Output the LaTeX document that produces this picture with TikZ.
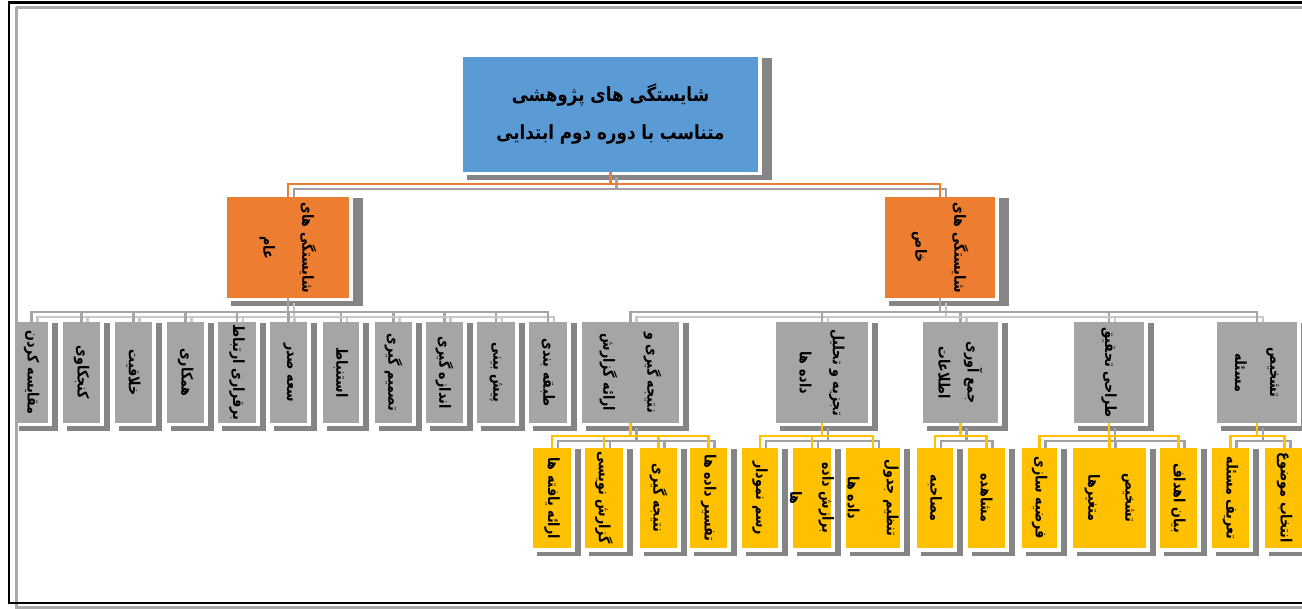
\documentclass[tikz,border=0pt]{standalone}
\usepackage{fontspec}
\newfontfamily\arabicfont[Script=Arabic, FakeStretch=0.82]{DejaVu Sans}
\newfontfamily\arabicmain[Script=Arabic, FakeStretch=0.86]{DejaVu Sans}
\TeXXeTstate=1
\usetikzlibrary{calc}
\pgfdeclarelayer{bg}\pgfdeclarelayer{mid}
\pgfsetlayers{bg,mid,main}
\definecolor{cblue}{HTML}{5B9BD5}
\definecolor{corange}{HTML}{ED7D31}
\definecolor{cgray}{HTML}{A5A5A5}
\definecolor{cyellow}{HTML}{FFC000}
\definecolor{shadowc}{HTML}{858585}
\definecolor{lshadow}{HTML}{A0A0A0}
\definecolor{lshadowl}{HTML}{C8C8C8}
\newcommand{\rl}[1]{\beginR #1\endR}
% box: name, fill, x1, y1, x2, y2
\newcommand{\bx}[6]{\node[boxbase, fill=#2, minimum width={#5-#3}, minimum height={#6-#4}] (#1) at ({(#3+#5)/2},{(#4+#6)/2}) {};}
% connector: parent, child, bus y, colour, shadow colour
\newcommand{\cn}[5]{%
  \draw[#5, conn, transform canvas={shift={(6pt,-5pt)}}] (#1.south) -- (#1.south |- 0,#3) -| (#2.north);
  \draw[#4, conn] (#1.south) -- (#1.south |- 0,#3) -| (#2.north);}
\tikzset{
  boxbase/.style={rectangle, draw=none, inner sep=0pt, outer sep=0pt},
  conn/.style={line width=2.2pt},
  maintxt/.style={font=\arabicmain\bfseries\fontsize{19.5}{38}\selectfont, align=center, text=black},
  vtxt/.style={font=\arabicfont\bfseries\fontsize{15.5}{37}\selectfont, align=center, text=black, rotate=-90, inner sep=0pt},
}
\begin{document}
\begin{tikzpicture}[x=1pt, y=-1pt]
\useasboundingbox (0,0) rectangle (1302,609);
% frame
\draw[shadowc!70, line width=2.2pt] (16,7.5) -- (1302,7.5);
\draw[shadowc!70, line width=2.2pt] (16.5,7) -- (16.5,607.5) -- (1302,607.5);
\draw[black, line width=2.5pt] (1302,2.5) -- (9,2.5) -- (9,603) -- (1302,603);
% boxes
\bx{m}{cblue}{463}{57}{758}{172}
\bx{ga}{corange}{227}{197}{349}{298}
\bx{gk}{corange}{885}{197}{995}{298}
\bx{a1}{cgray}{15}{322}{48}{423}
\bx{a2}{cgray}{63}{322}{100}{423}
\bx{a3}{cgray}{115}{322}{152}{423}
\bx{a4}{cgray}{167}{322}{204}{423}
\bx{a5}{cgray}{218}{322}{256}{423}
\bx{a6}{cgray}{270}{322}{307}{423}
\bx{a7}{cgray}{323}{322}{359}{423}
\bx{a8}{cgray}{375}{322}{412}{423}
\bx{a9}{cgray}{426}{322}{463}{423}
\bx{a10}{cgray}{477}{322}{515}{423}
\bx{a11}{cgray}{529}{322}{567}{423}
\bx{b1}{cgray}{582}{322}{679}{423}
\bx{b2}{cgray}{776}{322}{868}{423}
\bx{b3}{cgray}{923}{322}{998}{423}
\bx{b4}{cgray}{1074}{322}{1144}{423}
\bx{b5}{cgray}{1217}{322}{1297}{423}
\bx{c1}{cyellow}{533}{448}{571}{548}
\bx{c2}{cyellow}{585}{448}{623}{548}
\bx{c3}{cyellow}{640}{448}{677}{548}
\bx{c4}{cyellow}{690}{448}{727}{548}
\bx{d1}{cyellow}{742}{448}{778}{548}
\bx{d2}{cyellow}{793}{448}{831}{548}
\bx{d3}{cyellow}{846}{448}{900}{548}
\bx{e1}{cyellow}{917}{448}{953}{548}
\bx{e2}{cyellow}{968}{448}{1005}{548}
\bx{f1}{cyellow}{1022}{448}{1057}{548}
\bx{f2}{cyellow}{1073}{448}{1146}{548}
\bx{f3}{cyellow}{1160}{448}{1197}{548}
\bx{g1}{cyellow}{1212}{448}{1249}{548}
\bx{g2}{cyellow}{1265}{448}{1304}{548}
% shadows and white halos
\begin{pgfonlayer}{bg}
\foreach \n in {m,ga,gk}
  \fill[shadowc] ($(\n.north west)+(4,1)$) rectangle ($(\n.south east)+(14,8)$);
\foreach \n in {a1,a2,a3,a4,a5,a6,a7,a8,a9,a10,a11,b1,b2,b3,b4,b5,c1,c2,c3,c4,d1,d2,d3,e1,e2,f1,f2,f3,g1,g2}
  \fill[shadowc] ($(\n.north west)+(4,1)$) rectangle ($(\n.south east)+(10,8)$);
\foreach \n in {m,ga,gk,a1,a2,a3,a4,a5,a6,a7,a8,a9,a10,a11,b1,b2,b3,b4,b5,c1,c2,c3,c4,d1,d2,d3,e1,e2,f1,f2,f3,g1,g2}
  \fill[white] ($(\n.north west)+(-3.5,-3.5)$) rectangle ($(\n.south east)+(3.5,3.5)$);
\end{pgfonlayer}
% connectors
\begin{pgfonlayer}{mid}
\cn{m}{ga}{184}{corange}{lshadow}
\cn{m}{gk}{184}{corange}{lshadow}
\foreach \c in {a1,a2,a3,a4,a5,a6,a7,a8,a9,a10,a11}{\cn{ga}{\c}{312}{cgray}{lshadowl}}
\foreach \c in {b1,b2,b3,b4,b5}{\cn{gk}{\c}{312}{cgray}{lshadowl}}
\foreach \c in {c1,c2,c3,c4}{\cn{b1}{\c}{436}{cyellow}{lshadow}}
\foreach \c in {d1,d2,d3}{\cn{b2}{\c}{436}{cyellow}{lshadow}}
\foreach \c in {e1,e2}{\cn{b3}{\c}{436}{cyellow}{lshadow}}
\foreach \c in {f1,f2,f3}{\cn{b4}{\c}{436}{cyellow}{lshadow}}
\foreach \c in {g1,g2}{\cn{b5}{\c}{436}{cyellow}{lshadow}}
\end{pgfonlayer}
% texts
\node[maintxt] (mt) at (m) {\rl{شایستگی های پژوهشی}\\\rl{متناسب با دوره دوم ابتدایی}};
\node[vtxt] (gat) at (ga) {\rl{شایستگی های}\\[2pt]\rl{عام}};
\node[vtxt] (gkt) at (gk) {\rl{شایستگی های}\\[2pt]\rl{خاص}};
\node[vtxt] (a1t) at (a1) {\rl{مقایسه کردن}};
\node[vtxt] (a2t) at (a2) {\rl{کنجکاوی}};
\node[vtxt] (a3t) at (a3) {\rl{خلاقیت}};
\node[vtxt] (a4t) at (a4) {\rl{همکاری}};
\node[vtxt] (a5t) at (a5) {\rl{برقراری ارتباط}};
\node[vtxt] (a6t) at (a6) {\rl{سعه صدر}};
\node[vtxt] (a7t) at (a7) {\rl{استنباط}};
\node[vtxt] (a8t) at (a8) {\rl{تصمیم گیری}};
\node[vtxt] (a9t) at (a9) {\rl{اندازه گیری}};
\node[vtxt] (a10t) at (a10) {\rl{پیش بینی}};
\node[vtxt] (a11t) at (a11) {\rl{طبقه بندی}};
\node[vtxt] (b1t) at (b1) {\rl{نتیجه گیری و}\\[7pt]\rl{ارائه گزارش}};
\node[vtxt] (b2t) at (b2) {\rl{تجزیه و تحلیل}\\[-4pt]\rl{داده ها}};
\node[vtxt] (b3t) at (b3) {\rl{جمع آوری}\\[-8pt]\rl{اطلاعات}};
\node[vtxt] (b4t) at (b4) {\rl{طراحی تحقیق}};
\node[vtxt] (b5t) at (b5) {\rl{تشخیص}\\[-2pt]\rl{مسئله}};
\node[vtxt] (c1t) at (c1) {\rl{ارائه یافته ها}};
\node[vtxt] (c2t) at (c2) {\rl{گزارش نویسی}};
\node[vtxt] (c3t) at (c3) {\rl{نتیجه گیری}};
\node[vtxt] (c4t) at (c4) {\rl{تفسیر داده ها}};
\node[vtxt] (d1t) at (d1) {\rl{رسم نمودار}};
\node[vtxt] (d2t) at (d2) {\rl{برازش داده}\\[-5pt]\rl{ها}};
\node[vtxt] (d3t) at (d3) {\rl{تنظیم جدول}\\[2pt]\rl{داده ها}};
\node[vtxt] (e1t) at (e1) {\rl{مصاحبه}};
\node[vtxt] (e2t) at (e2) {\rl{مشاهده}};
\node[vtxt] (f1t) at (f1) {\rl{فرضیه سازی}};
\node[vtxt] (f2t) at (f2) {\rl{تشخیص}\\\rl{متغیرها}};
\node[vtxt] (f3t) at (f3) {\rl{بیان اهداف}};
\node[vtxt] (g1t) at (g1) {\rl{تعریف مسئله}};
\node[vtxt] (g2t) at (g2) {\rl{انتخاب موضوع}};
\end{tikzpicture}
\end{document}
